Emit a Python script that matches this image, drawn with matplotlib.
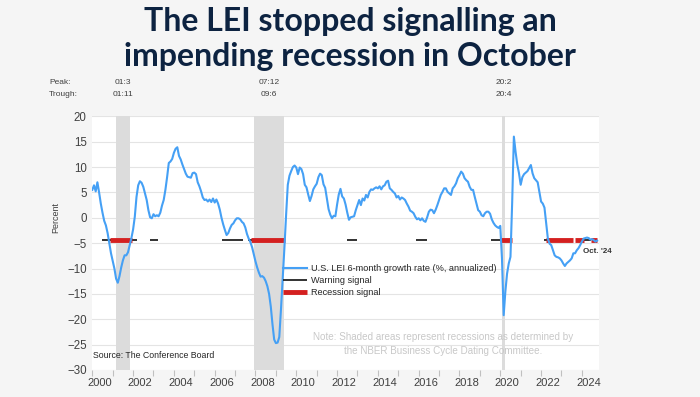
import numpy as np
import matplotlib
matplotlib.use("Agg")
import matplotlib.pyplot as plt
from matplotlib.transforms import ScaledTranslation, blended_transform_factory

# U.S. LEI 6-month growth rate (%, annualized), monthly Jan 2000 .. Oct 2024
lei = [
    5.5, 6.4, 5.2, 7.0, 5.0, 2.8, 1.0, -0.6, -1.5, -3.0, -5.0, -7.0,            # 2000
    -8.5, -10.0, -12.0, -12.8, -11.5, -9.8, -8.4, -7.4, -7.4, -6.8, -5.4, -4.0, # 2001
    -2.3, 0.2, 4.1, 6.4, 7.2, 6.9, 6.1, 4.8, 3.5, 1.5, 0.1, -0.1,               # 2002
    0.7, 0.3, 0.5, 0.3, 1.0, 2.4, 3.5, 5.5, 8.0, 10.8, 11.1, 11.6,              # 2003
    12.8, 13.6, 13.9, 12.2, 11.5, 10.5, 9.6, 8.7, 8.1, 8.0, 7.9, 8.8,           # 2004
    8.9, 8.6, 7.0, 6.2, 5.2, 4.0, 3.5, 3.6, 3.2, 3.6, 3.1, 3.8,                 # 2005
    3.0, 3.6, 2.8, 1.6, 0.0, -1.3, -2.4, -3.4, -3.0, -2.1, -1.4, -1.1,          # 2006
    -0.5, -0.1, -0.1, -0.3, -0.8, -1.1, -1.9, -3.2, -4.1, -4.8, -5.8, -7.2,     # 2007
    -8.6, -9.8, -10.8, -11.6, -11.5, -11.8, -12.5, -13.5, -15.0, -17.5, -21.0, -24.0,  # 2008
    -24.7, -24.6, -23.5, -18.0, -12.0, -6.0, 0.5, 6.5, 8.3, 9.2, 10.0, 10.3,    # 2009
    9.9, 8.6, 9.9, 9.6, 8.6, 6.5, 6.0, 4.6, 3.3, 4.3, 5.6, 6.2,                 # 2010
    6.7, 8.0, 8.7, 8.4, 6.6, 5.9, 3.8, 1.7, 0.6, -0.1, 0.4, 0.3,                # 2011
    2.6, 4.6, 5.7, 4.2, 3.8, 2.6, 1.0, -0.4, 0.1, 0.2, 0.3, 1.5,                # 2012
    2.5, 3.5, 2.5, 3.8, 3.4, 4.5, 4.0, 5.1, 5.6, 5.5, 5.8, 6.0,                 # 2013
    5.8, 6.2, 5.6, 6.2, 6.4, 7.1, 7.3, 5.8, 5.5, 5.1, 4.8, 4.0,                 # 2014
    4.3, 3.6, 4.0, 3.8, 3.5, 2.8, 2.2, 1.4, 1.2, 0.9, 0.2, -0.3,                # 2015
    -0.1, -0.5, -0.1, -0.6, -0.8, 0.1, 1.2, 1.6, 1.5, 0.9, 1.6, 2.5,            # 2016
    3.5, 4.5, 5.1, 5.8, 5.8, 5.1, 4.8, 4.5, 5.8, 6.2, 6.8, 7.8,                 # 2017
    8.4, 9.1, 8.7, 7.8, 7.4, 7.1, 6.1, 5.5, 5.5, 4.1, 2.8, 1.5,                 # 2018
    1.2, 0.5, 0.3, 0.9, 1.2, 1.2, 0.8, -0.3, -1.0, -1.5, -1.8, -2.0,            # 2019
    -1.6, -8.0, -19.2, -14.5, -11.0, -9.0, -7.7, 3.0, 16.0, 13.0, 10.5, 8.8,    # 2020
    6.5, 8.0, 8.6, 8.9, 9.2, 9.8, 10.4, 8.75, 7.8, 7.4, 7.0, 5.1,               # 2021
    3.2, 2.8, 2.0, -1.1, -4.1, -5.1, -5.4, -6.4, -7.4, -7.7, -7.8, -8.0,        # 2022
    -8.4, -9.0, -9.5, -9.0, -8.7, -8.4, -8.0, -7.0, -7.0, -6.4, -6.0, -5.4,     # 2023
    -4.7, -4.1, -4.0, -3.9, -4.0, -4.3, -4.2, -4.4, -4.7, -4.5,                 # 2024
]
start_year = 2000

# NBER recessions (peak, trough) as decimal years, with labels
rec_peaks = [2001 + 2/12, 2007 + 11/12, 2020 + 1/12]
rec_troughs = [2001 + 10/12, 2009 + 5/12, 2020 + 3/12]
peak_labels = ["01:3", "07:12", "20:2"]
trough_labels = ["01:11", "09:6", "20:4"]

# signal threshold and periods (decimal years)
signal_level = -4.4
warn_start = [2000.46, 2002.83, 2006.34, 2007.62, 2012.50, 2015.85, 2019.55, 2022.15, 2024.05]
warn_end = [2002.18, 2003.24, 2007.37, 2007.81, 2012.96, 2016.39, 2020.00, 2022.30, 2024.45]
recsig_start = [2000.87, 2007.77, 2020.02, 2022.25, 2023.65, 2024.45]
recsig_end = [2001.93, 2009.45, 2020.58, 2023.55, 2024.10, 2024.72]

years = np.arange(2000, 2025)

x = start_year + np.arange(len(lei)) / 12

fig = plt.figure(figsize=(7, 3.97), dpi=100, facecolor="#f5f5f5")
ax = fig.add_axes([92.3/700, 27/397, 506.7/700, 253.7/397])
ax.set_facecolor("white")

for p, t in zip(rec_peaks, rec_troughs):
    ax.axvspan(p, t, color="#dcdcdc", lw=0, zorder=1)

ax.set_ylim(-30, 20)
ax.set_yticks(np.arange(-30, 21, 5))
ax.set_xlim(2000, 2024.84)
ax.grid(axis="y", color="#e4e4e4", lw=0.8, zorder=0)
ax.set_axisbelow(True)
for s in ax.spines.values():
    s.set_visible(False)

line, = ax.plot(x, lei, color="#45a0f5", lw=1.5, zorder=4,
                label="U.S. LEI 6-month growth rate (%, annualized)")
warn = ax.hlines([signal_level]*len(warn_start), warn_start, warn_end,
                 color="#222222", lw=1.3, zorder=3, label="Warning signal")
recs = ax.hlines([signal_level]*len(recsig_start), recsig_start, recsig_end,
                 color="#d42020", lw=3.5, zorder=3, label="Recession signal")

ax.set_xticks(years)
ax.set_xticklabels([str(y) if y % 2 == 0 else "" for y in years])
ax.tick_params(axis="x", length=4, width=0.8, color="#c0c0c0", pad=2,
               labelsize=8, labelcolor="#404040")
ax.tick_params(axis="y", length=0, pad=4, labelsize=8.3, labelcolor="#404040")
for lab in ax.get_xticklabels():
    lab.set_transform(lab.get_transform() + ScaledTranslation(0.07, 0, fig.dpi_scale_trans))
for lab in ax.get_xticklabels() + ax.get_yticklabels():
    lab.set_fontfamily("Liberation Sans")

ax.set_ylabel("Percent", fontsize=6.5, color="#404040", family="Liberation Sans")
ax.yaxis.set_label_coords(-0.064, 0.6)

leg = ax.legend(handles=[line, warn, recs], loc="upper left",
                bbox_to_anchor=(283/700, 1 - 264/397), bbox_transform=fig.transFigure,
                frameon=False, borderpad=0, borderaxespad=0, handlelength=2.6,
                handletextpad=0.5, labelspacing=0.35,
                prop={"family": "Liberation Sans", "size": 6.6})
for t in leg.get_texts():
    t.set_color("#262626")

ax.annotate("Oct. '24", xy=(x[-1], lei[-1]), xytext=(-10, -7.6), textcoords="offset points",
            ha="left", va="center", fontsize=5.8, fontweight="bold", color="#333333",
            family="Liberation Sans")

# peak / trough labels above the chart
tr = blended_transform_factory(ax.transData, fig.transFigure)
fig.text(49/700, 1 - 82/397, "Peak:", fontsize=6, color="#404040", va="center",
         family="Liberation Sans")
fig.text(49/700, 1 - 94/397, "Trough:", fontsize=6, color="#404040", va="center",
         family="Liberation Sans")
for p, t, pl, tl in zip(rec_peaks, rec_troughs, peak_labels, trough_labels):
    mid = (p + t) / 2
    ax.text(mid, 1 - 82/397, pl, transform=tr, ha="center", va="center", fontsize=6,
            color="#404040", family="Liberation Sans")
    ax.text(mid, 1 - 94/397, tl, transform=tr, ha="center", va="center", fontsize=6,
            color="#404040", family="Liberation Sans")

fig.text(443/700, 1 - 344/397,
         "Note: Shaded areas represent recessions as determined by\nthe NBER Business Cycle Dating Committee.",
         ha="center", va="center", fontsize=7.1, color="#c8c8c8", linespacing=1.45,
         family="Liberation Sans")
fig.text(93/700, 1 - 355/397, "Source: The Conference Board", ha="left", va="center",
         fontsize=6.3, color="#262626", family="Liberation Sans")

fig.text(0.5, 1 - 31/397, "The LEI stopped signalling an", ha="center", va="baseline",
         fontsize=23, fontweight="bold", color="#0d2341", family="Lato")
fig.text(0.5, 1 - 66/397, "impending recession in October", ha="center", va="baseline",
         fontsize=23, fontweight="bold", color="#0d2341", family="Lato")

fig.savefig("out.png", dpi=100, facecolor=fig.get_facecolor())
